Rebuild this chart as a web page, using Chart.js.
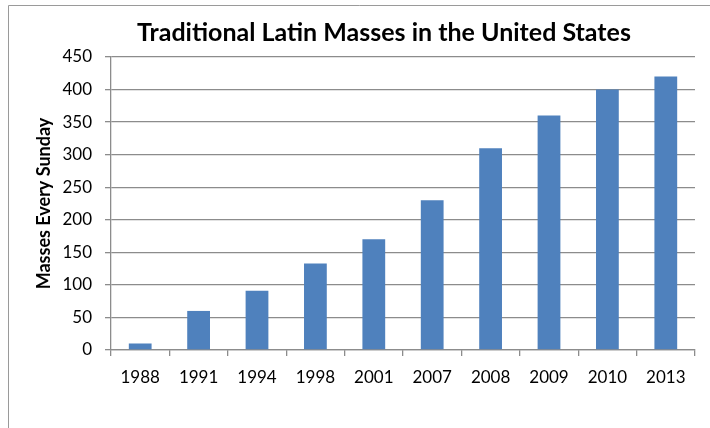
<!DOCTYPE html>
<html lang="en">
  <head>
    <meta charset="UTF-8" />
    <title>Traditional Latin Masses in the United States</title>
    <script src="https://cdn.jsdelivr.net/npm/chart.js"></script>
    <style>
      html,
      body {
        margin: 0;
        padding: 0;
        width: 710px;
        height: 428px;
        overflow: hidden;
        background: #ffffff;
      }
      canvas#massChart {
        display: block;
      }
    </style>
  </head>
  <body>
    <canvas id="massChart" width="710" height="428"></canvas>
    <script>
      // data
      const years = ["1988", "1991", "1994", "1998", "2001", "2007", "2008", "2009", "2010", "2013"];
      const masses = [10, 60, 91, 133, 170, 230, 310, 360, 400, 420];
      const chartTitle = "Traditional Latin Masses in the United States";
      const yTitle = "Masses Every Sunday";

      const gridColor = "#8c8c8c";

      // frame of the chart object + title centered like the original
      const framePlugin = {
        id: "frameAndTitle",
        beforeDraw(chart) {
          const c = chart.ctx;
          c.save();
          c.fillStyle = "#ffffff";
          c.fillRect(0, 0, chart.width, chart.height);
          c.strokeStyle = "#9a9a9a";
          c.lineWidth = 1;
          c.beginPath();
          c.moveTo(8.5, chart.height);
          c.lineTo(8.5, 5.5);
          c.lineTo(chart.width, 5.5);
          c.stroke();
          c.restore();
        },
        afterDraw(chart) {
          const c = chart.ctx;
          c.save();
          c.font = "bold 25px Lato";
          c.fillStyle = "#000000";
          c.textAlign = "center";
          c.textBaseline = "alphabetic";
          c.fillText(chartTitle, 384, 41);
          c.restore();
        },
      };

      new Chart(document.getElementById("massChart").getContext("2d"), {
        type: "bar",
        data: {
          labels: years,
          datasets: [
            {
              label: "Masses",
              data: masses,
              backgroundColor: "#4f81bd",
              borderWidth: 0,
              barPercentage: 0.39,
              categoryPercentage: 1.0,
            },
          ],
        },
        options: {
          responsive: false,
          animation: false,
          layout: {
            padding: { left: 0, right: 15, top: 57, bottom: 0 },
          },
          plugins: {
            legend: { display: false },
            tooltip: { enabled: false },
          },
          scales: {
            x: {
              grid: {
                drawOnChartArea: false,
                color: gridColor,
                lineWidth: 1.3,
                tickLength: 6,
              },
              border: { color: gridColor, width: 1.3 },
              ticks: {
                color: "#000000",
                font: { family: "Lato", size: 17 },
                padding: 11,
                maxRotation: 0,
              },
              afterFit(scale) {
                scale.height = 78;
              },
            },
            y: {
              min: 0,
              max: 450,
              grid: {
                color: gridColor,
                lineWidth: 1.3,
                tickLength: 6,
              },
              border: { color: gridColor, width: 1.3 },
              ticks: {
                stepSize: 50,
                color: "#000000",
                font: { family: "Lato", size: 17 },
                padding: 13,
              },
              title: {
                display: true,
                text: yTitle,
                color: "#000000",
                font: { family: "Lato", size: 18, weight: "bold" },
                padding: { top: 33, bottom: 0 },
              },
              afterFit(scale) {
                scale.width = 111;
              },
            },
          },
        },
        plugins: [framePlugin],
      });
    </script>
  </body>
</html>
